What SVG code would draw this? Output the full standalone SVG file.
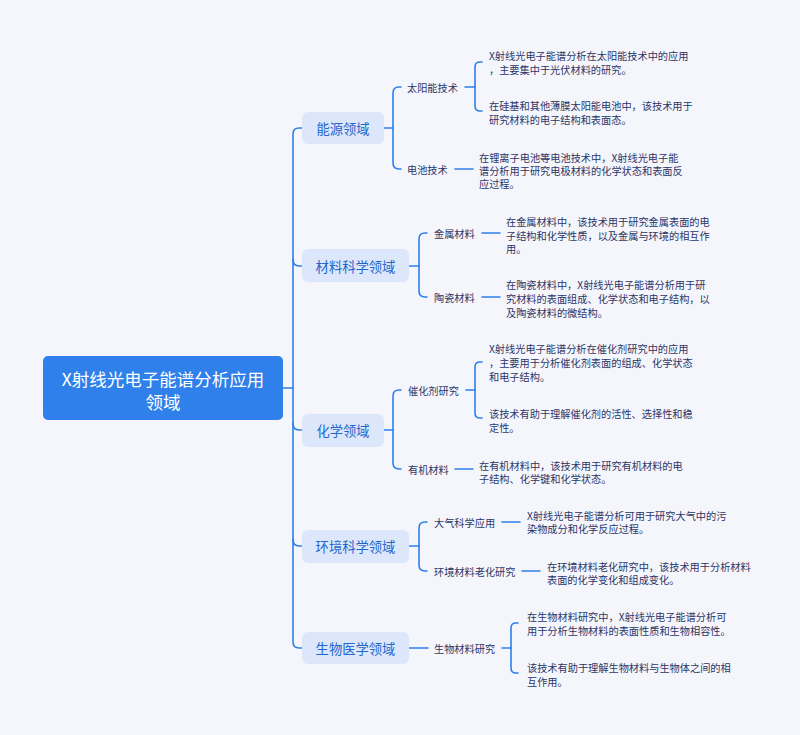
<svg xmlns="http://www.w3.org/2000/svg" width="800" height="735" viewBox="0 0 800 735">
<style>
text{font-family:"Noto Sans CJK SC","Noto Sans",sans-serif;dominant-baseline:central}
.root{fill:#2f80ea}
.rootT{fill:#ffffff;font-size:17.5px;text-anchor:middle}
.l1{fill:#dce7fb}
.l1T{fill:#2366cc;font-size:13.3px;text-anchor:middle}
.l2T{fill:#2b3566;font-size:10.2px}
.leaf{fill:#2b3566;font-size:10.2px}
.c{fill:none;stroke:#2f80ea;stroke-width:1.6;stroke-linecap:round}
</style>
<rect width="800" height="735" fill="#f5f6fc"/>
<g id="connectors" class="c">
<path d="M283,388 H293"/>
<path d="M302,128 H299 Q293,128 293,134 V642 Q293,648 299,648 H302"/>
<path d="M293,259 Q293,266 299,266 H302"/>
<path d="M293,423 Q293,430 299,430 H302"/>
<path d="M293,539 Q293,546 299,546 H302"/>
<path d="M384,128 H393"/>
<path d="M401,87 H399 Q393,87 393,93 V163 Q393,169 399,169 H401"/>
<path d="M465,87 H475"/>
<path d="M482,62 H480 Q475,62 475,67 V106 Q475,111 480,111 H482"/>
<path d="M455,169 H473"/>
<path d="M409,266 H419"/>
<path d="M427,233 H425 Q419,233 419,239 V291 Q419,297 425,297 H427"/>
<path d="M482,233 H500"/>
<path d="M482,297 H500"/>
<path d="M384,430 H393"/>
<path d="M401,390 H399 Q393,390 393,396 V463 Q393,469 399,469 H401"/>
<path d="M466,390 H475"/>
<path d="M482,362 H480 Q475,362 475,367 V413 Q475,418 480,418 H482"/>
<path d="M455,469 H473"/>
<path d="M409,546 H419"/>
<path d="M427,522 H425 Q419,522 419,528 V565 Q419,571 425,571 H427"/>
<path d="M502,522 H520"/>
<path d="M522,571 H540"/>
<path d="M409,648 H428"/>
<path d="M502,648 H511"/>
<path d="M518,623 H516 Q511,623 511,628 V668 Q511,673 516,673 H518"/>
</g>
<g id="root">
<rect class="root" x="43" y="356" width="240" height="64" rx="5"/>
<text class="rootT" x="163" y="378">X射线光电子能谱分析应用</text>
<text class="rootT" x="163" y="401">领域</text>
</g>
<g id="n-energy"><rect class="l1" x="302" y="112" width="82" height="32" rx="6"/><text class="l1T" x="343" y="128">能源领域</text></g>
<g id="n-material"><rect class="l1" x="302" y="249" width="107" height="33" rx="6"/><text class="l1T" x="355.5" y="266">材料科学领域</text></g>
<g id="n-chem"><rect class="l1" x="302" y="414" width="82" height="33" rx="6"/><text class="l1T" x="343" y="430">化学领域</text></g>
<g id="n-env"><rect class="l1" x="302" y="530" width="107" height="33" rx="6"/><text class="l1T" x="355.5" y="546">环境科学领域</text></g>
<g id="n-bio"><rect class="l1" x="302" y="632" width="107" height="32" rx="6"/><text class="l1T" x="355.5" y="648">生物医学领域</text></g>
<g id="s-solar"><text class="l2T" x="407" y="87">太阳能技术</text></g>
<g id="s-battery"><text class="l2T" x="407" y="169">电池技术</text></g>
<g id="s-metal"><text class="l2T" x="434" y="233">金属材料</text></g>
<g id="s-ceramic"><text class="l2T" x="434" y="297">陶瓷材料</text></g>
<g id="s-catalyst"><text class="l2T" x="408" y="390">催化剂研究</text></g>
<g id="s-organic"><text class="l2T" x="408" y="469">有机材料</text></g>
<g id="s-atmos"><text class="l2T" x="434" y="522">大气科学应用</text></g>
<g id="s-aging"><text class="l2T" x="434" y="571">环境材料老化研究</text></g>
<g id="s-biomat"><text class="l2T" x="434" y="648">生物材料研究</text></g>
<g id="leaf-a1" class="leaf"><text class="leaf" x="489" y="55">X射线光电子能谱分析在太阳能技术中的应用</text><text class="leaf" x="489" y="69">，主要集中于光伏材料的研究。</text></g>
<g id="leaf-a2"><text class="leaf" x="489" y="105">在硅基和其他薄膜太阳能电池中，该技术用于</text><text class="leaf" x="489" y="119">研究材料的电子结构和表面态。</text></g>
<g id="leaf-b"><text class="leaf" x="479" y="157">在锂离子电池等电池技术中，X射线光电子能</text><text class="leaf" x="479" y="170">谱分析用于研究电极材料的化学状态和表面反</text><text class="leaf" x="479" y="183">应过程。</text></g>
<g id="leaf-c1"><text class="leaf" x="506" y="221">在金属材料中，该技术用于研究金属表面的电</text><text class="leaf" x="506" y="235">子结构和化学性质，以及金属与环境的相互作</text><text class="leaf" x="506" y="248">用。</text></g>
<g id="leaf-c2"><text class="leaf" x="506" y="284">在陶瓷材料中，X射线光电子能谱分析用于研</text><text class="leaf" x="506" y="298">究材料的表面组成、化学状态和电子结构，以</text><text class="leaf" x="506" y="312">及陶瓷材料的微结构。</text></g>
<g id="leaf-d1"><text class="leaf" x="489" y="348">X射线光电子能谱分析在催化剂研究中的应用</text><text class="leaf" x="489" y="362">，主要用于分析催化剂表面的组成、化学状态</text><text class="leaf" x="489" y="376">和电子结构。</text></g>
<g id="leaf-d2"><text class="leaf" x="489" y="413">该技术有助于理解催化剂的活性、选择性和稳</text><text class="leaf" x="489" y="427">定性。</text></g>
<g id="leaf-e"><text class="leaf" x="479" y="465">在有机材料中，该技术用于研究有机材料的电</text><text class="leaf" x="479" y="478">子结构、化学键和化学状态。</text></g>
<g id="leaf-f1"><text class="leaf" x="527" y="515">X射线光电子能谱分析可用于研究大气中的污</text><text class="leaf" x="527" y="528">染物成分和化学反应过程。</text></g>
<g id="leaf-f2"><text class="leaf" x="547" y="566">在环境材料老化研究中，该技术用于分析材料</text><text class="leaf" x="547" y="579">表面的化学变化和组成变化。</text></g>
<g id="leaf-g1"><text class="leaf" x="527" y="616">在生物材料研究中，X射线光电子能谱分析可</text><text class="leaf" x="527" y="630">用于分析生物材料的表面性质和生物相容性。</text></g>
<g id="leaf-g2"><text class="leaf" x="527" y="667">该技术有助于理解生物材料与生物体之间的相</text><text class="leaf" x="527" y="681">互作用。</text></g>
</svg>
